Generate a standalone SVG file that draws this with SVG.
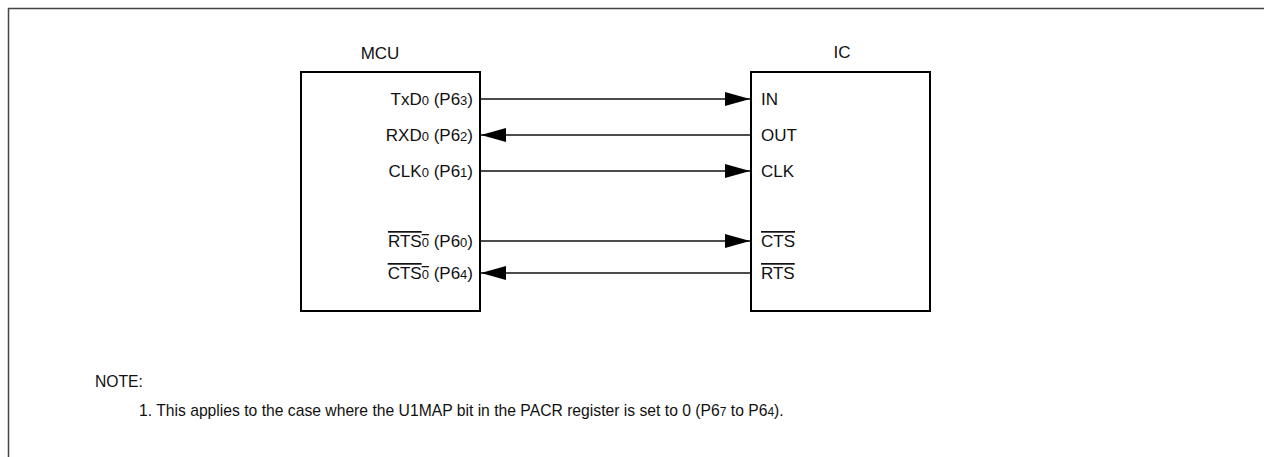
<svg xmlns="http://www.w3.org/2000/svg" width="1264" height="457" viewBox="0 0 1264 457">
<defs>
<style>
text{font-family:"Liberation Sans",Arial,sans-serif;fill:#111;}
.t{font-size:17px;}
.s{font-size:13px;}
.ns{font-size:12px;}
.n{font-size:15.7px;}
.title{font-size:17px;}
.box{fill:#fff;stroke:#000;stroke-width:2;}
.wire{stroke:#111;stroke-width:1.3;fill:none;}
.ol{text-decoration:overline;}
</style>
<marker id="ah" viewBox="0 0 25 14" refX="25" refY="7" markerWidth="25" markerHeight="14" markerUnits="userSpaceOnUse" orient="auto">
<path d="M0,0 L25,7 L0,14 Z" fill="#000"/>
</marker>
</defs>
<rect width="1264" height="457" fill="#fff"/>
<path d="M8.5,457 V8.5 H1264" fill="none" stroke="#444" stroke-width="1.5"/>

<g id="mcu">
<text class="title" x="380" y="59" text-anchor="middle">MCU</text>
<rect class="box" x="301" y="72" width="179" height="239"/>
<text class="t" x="473" y="105" text-anchor="end">TxD<tspan class="s">0</tspan> (P6<tspan class="s">3</tspan>)</text>
<text class="t" x="473" y="141" text-anchor="end">RXD<tspan class="s">0</tspan> (P6<tspan class="s">2</tspan>)</text>
<text class="t" x="473" y="177" text-anchor="end">CLK<tspan class="s">0</tspan> (P6<tspan class="s">1</tspan>)</text>
<text class="t" x="473" y="247" text-anchor="end"><tspan class="ol">RTS<tspan class="s">0</tspan></tspan> (P6<tspan class="s">0</tspan>)</text>
<text class="t" x="473" y="279" text-anchor="end"><tspan class="ol">CTS<tspan class="s">0</tspan></tspan> (P6<tspan class="s">4</tspan>)</text>
</g>

<g id="ic">
<text class="title" x="842" y="58" text-anchor="middle">IC</text>
<rect class="box" x="751" y="72" width="179" height="239"/>
<text class="t" x="761" y="105">IN</text>
<text class="t" x="761" y="141">OUT</text>
<text class="t" x="761" y="177">CLK</text>
<text class="t" x="761" y="247"><tspan class="ol">CTS</tspan></text>
<text class="t" x="761" y="279"><tspan class="ol">RTS</tspan></text>
</g>

<g id="connectors">
<line class="wire" x1="480" y1="99" x2="750" y2="99" marker-end="url(#ah)"/>
<line class="wire" x1="750" y1="135" x2="481" y2="135" marker-end="url(#ah)"/>
<line class="wire" x1="480" y1="171" x2="750" y2="171" marker-end="url(#ah)"/>
<line class="wire" x1="480" y1="241" x2="750" y2="241" marker-end="url(#ah)"/>
<line class="wire" x1="750" y1="273" x2="481" y2="273" marker-end="url(#ah)"/>
</g>

<g id="note">
<text class="n" x="95" y="387">NOTE:</text>
<text class="n" x="139" y="416">1. This applies to the case where the U1MAP bit in the PACR register is set to 0 (P6<tspan class="ns">7</tspan> to P6<tspan class="ns">4</tspan>).</text>
</g>
</svg>
